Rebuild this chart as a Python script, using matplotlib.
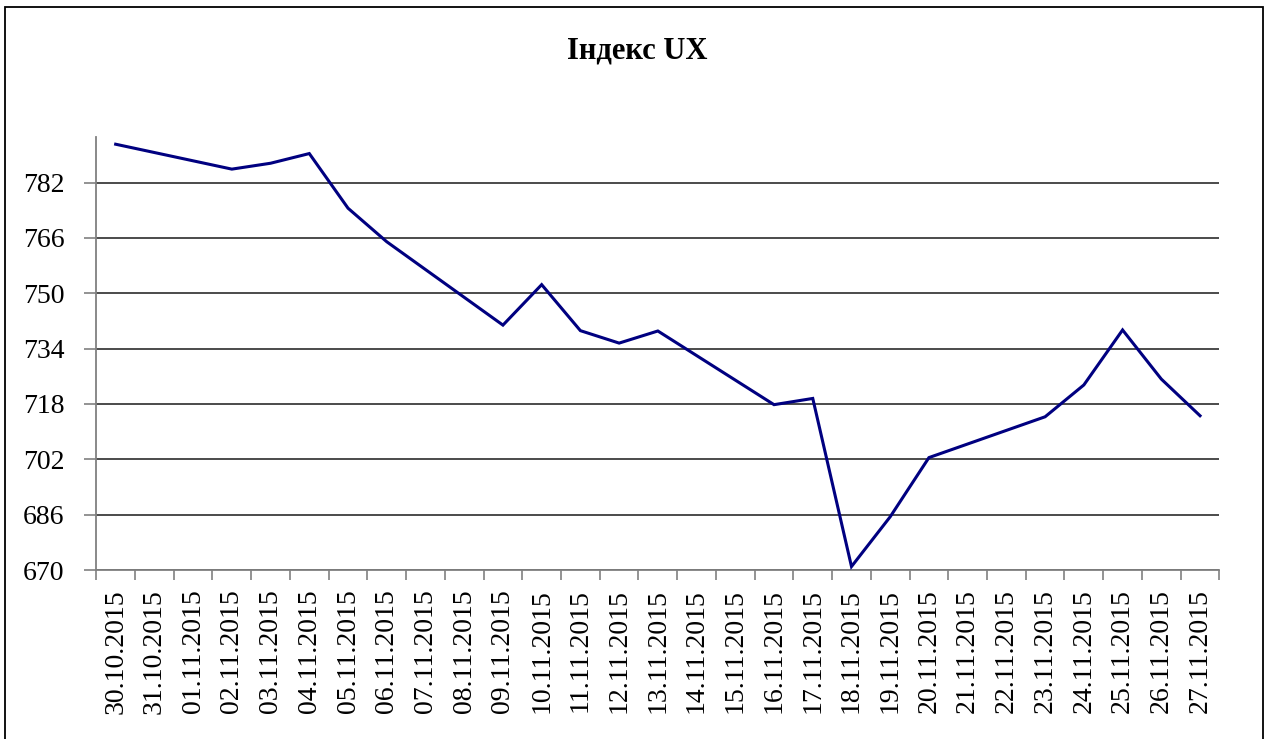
import matplotlib
matplotlib.use("Agg")
import matplotlib.pyplot as plt
from matplotlib.patches import Rectangle
from matplotlib.ticker import FixedLocator

# calendar days shown on the category axis
day_labels = [
    "30.10.2015", "31.10.2015", "01.11.2015", "02.11.2015", "03.11.2015",
    "04.11.2015", "05.11.2015", "06.11.2015", "07.11.2015", "08.11.2015",
    "09.11.2015", "10.11.2015", "11.11.2015", "12.11.2015", "13.11.2015",
    "14.11.2015", "15.11.2015", "16.11.2015", "17.11.2015", "18.11.2015",
    "19.11.2015", "20.11.2015", "21.11.2015", "22.11.2015", "23.11.2015",
    "24.11.2015", "25.11.2015", "26.11.2015", "27.11.2015",
]

# trading days with index values
trade_dates = [
    "30.10.2015", "02.11.2015", "03.11.2015", "04.11.2015", "05.11.2015",
    "06.11.2015", "09.11.2015", "10.11.2015", "11.11.2015", "12.11.2015",
    "13.11.2015", "16.11.2015", "17.11.2015", "18.11.2015", "19.11.2015",
    "20.11.2015", "23.11.2015", "24.11.2015", "25.11.2015", "26.11.2015",
    "27.11.2015",
]
ux_values = [
    793.1, 785.9, 787.6, 790.4, 774.6,
    764.9, 740.8, 752.5, 739.2, 735.6,
    739.1, 717.8, 719.6, 671.0, 685.4,
    702.5, 714.3, 723.5, 739.4, 725.2,
    714.6,
]

y_ticks = [670, 686, 702, 718, 734, 750, 766, 782]

plt.rcParams['font.family'] = ['Liberation Serif', 'DejaVu Serif']

fig = plt.figure(figsize=(12.66, 7.39), dpi=100)
ax = fig.add_axes([96.3 / 1266, 1 - 570 / 739, (1219.4 - 96.3) / 1266, (570 - 137.3) / 739])

# chart border (bottom edge cut off like in the source)
fig.patches.append(Rectangle((5 / 1266, -0.05), 1258 / 1266, 1.05 - 7 / 739,
                             transform=fig.transFigure, fill=False,
                             edgecolor='black', lw=1.3))

xs = [day_labels.index(d) for d in trade_dates]
ax.plot(xs, ux_values, color='#000080', lw=2.2, solid_joinstyle='miter', zorder=3)

ax.set_xlim(-0.5, len(day_labels) - 0.5)
ax.set_ylim(670, 795.1)

ax.set_yticks(y_ticks)
ax.set_yticklabels([str(v) for v in y_ticks], fontsize=20)
ax.yaxis.grid(True, color='#1a1a1a', lw=1.1)
ax.set_axisbelow(True)

ax.set_xticks(range(len(day_labels)))
ax.set_xticklabels(day_labels, rotation=90, fontsize=20, va='top', ha='center')
ax.xaxis.set_minor_locator(FixedLocator([i - 0.5 for i in range(len(day_labels) + 1)]))
ax.tick_params(axis='x', which='major', length=0, pad=14)
ax.tick_params(axis='x', which='minor', length=7, color='#808080', width=1.2, direction='out')
ax.tick_params(axis='y', length=9, color='#808080', width=1.2, direction='out', pad=14)

for side in ['top', 'right']:
    ax.spines[side].set_visible(False)
for side in ['left', 'bottom']:
    ax.spines[side].set_color('#808080')
    ax.spines[side].set_linewidth(1.3)

fig.text(637 / 1266, 1 - 51 / 739, "Індекс UX", ha='center', va='center',
         fontsize=22, fontweight='bold')

fig.savefig("out.png", dpi=100)
